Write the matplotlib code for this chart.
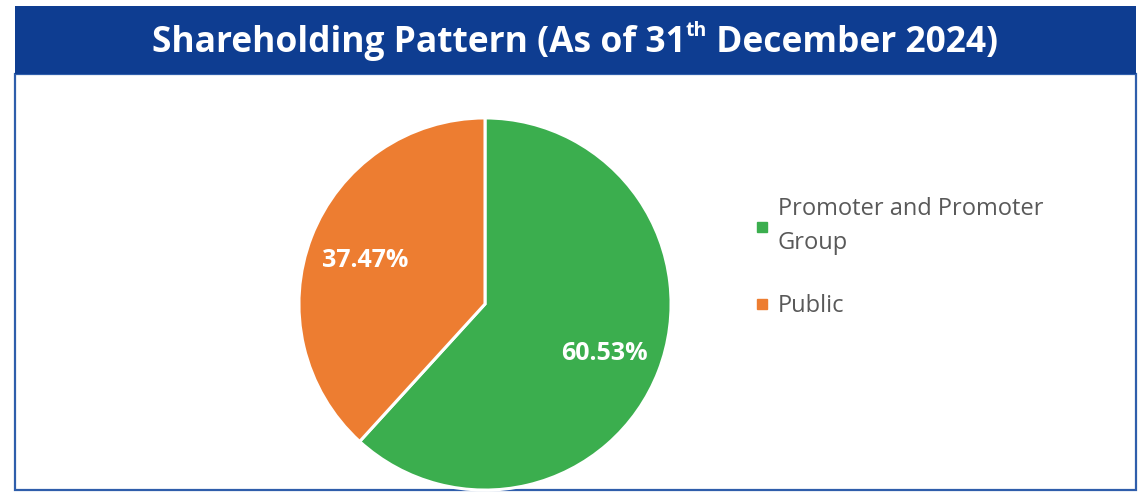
import matplotlib

matplotlib.use("Agg")

import matplotlib.pyplot as plt
from matplotlib.lines import Line2D
from matplotlib.patches import Rectangle

# -->> Data <<-------------------------

CATEGORIES = ["Promoter and Promoter\nGroup", "Public"]
HOLDINGS = [60.53, 37.47]
COLORS = ["#3BAE4E", "#ED7D31"]

TITLE_MAIN = "Shareholding Pattern (As of 31"
TITLE_SUP = "th"
TITLE_END = " December 2024)"

BLUE = "#0E3D91"
FONT = "Open Sans"

# -->> Figure <<-----------------------

W, H, DPI = 1143, 493, 100
fig = plt.figure(figsize=(W / DPI, H / DPI), dpi=DPI)
fig.patch.set_facecolor("white")

# frame + title bar, drawn in pixel space
frame = fig.add_axes([0, 0, 1, 1])
frame.set_xlim(0, W)
frame.set_ylim(H, 0)
frame.axis("off")
frame.add_patch(Rectangle((15, 74), 1121, 416, fill=False,
                          edgecolor="#2F5EAB", linewidth=1.6))
frame.add_patch(Rectangle((15, 6), 1121, 68, facecolor=BLUE,
                          edgecolor="none"))

# title with superscript "th"
title_kw = dict(color="white", fontweight="bold", family=FONT)
t1 = frame.text(152, 52, TITLE_MAIN, fontsize=25.5, va="baseline",
                ha="left", **title_kw)
t2 = frame.annotate(TITLE_SUP, xy=(1, 0.55), xycoords=t1, fontsize=14,
                    va="bottom", ha="left", **title_kw)
t3 = frame.annotate(TITLE_END, xy=(1, 0), xycoords=t2, fontsize=25.5,
                    va="bottom", ha="left", textcoords="offset points",
                    xytext=(0, 0), **title_kw)
# put the end text back on the main baseline
r = fig.canvas.get_renderer()
bb1 = t1.get_window_extent(r)
bb2 = t2.get_window_extent(r)
t3.set_position((0, (bb1.y0 - bb2.y0) * 72 / DPI))

# pie
R = 187
cx, cy = 485, 304
ax = fig.add_axes([(cx - R) / W, (H - cy - R) / H, 2 * R / W, 2 * R / H])
total = sum(HOLDINGS)
wedges, _, autotexts = ax.pie(
    HOLDINGS,
    colors=COLORS,
    startangle=90,
    counterclock=False,
    autopct=lambda p: f"{p * total / 100:.2f}%",
    pctdistance=0.69,
    wedgeprops=dict(edgecolor="white", linewidth=2.2),
    textprops=dict(color="white", fontsize=18, fontweight="bold",
                   family=FONT),
)
for t in autotexts:
    t.set_va("center_baseline")
ax.set_xlim(-1.005, 1.005)
ax.set_ylim(-1.005, 1.005)
ax.set_aspect("equal")

# legend
handles = [
    Line2D([], [], marker="s", linestyle="none", markersize=7,
           markerfacecolor=c, markeredgecolor=c)
    for c in COLORS
]
leg = fig.legend(
    handles, CATEGORIES,
    loc="upper left",
    bbox_to_anchor=(734 / W, 1 - 176 / H),
    frameon=False,
    handlelength=0.6,
    handletextpad=0.35,
    labelspacing=1.65,
    prop=dict(family=FONT, size=17),
    labelcolor="#595959",
)
for t in leg.get_texts():
    t.set_linespacing(1.55)

fig.savefig("out.png", dpi=DPI)
